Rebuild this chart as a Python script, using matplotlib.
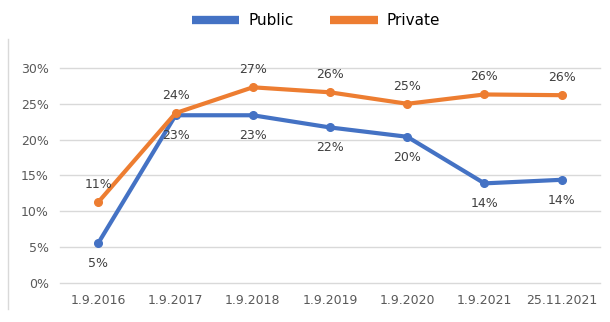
import matplotlib.pyplot as plt
import numpy as np

dates = ["1.9.2016", "1.9.2017", "1.9.2018", "1.9.2019", "1.9.2020", "1.9.2021", "25.11.2021"]
public = [5.6, 23.4, 23.4, 21.7, 20.4, 13.9, 14.4]
private = [11.3, 23.7, 27.3, 26.6, 25.0, 26.3, 26.2]
public_labels = ["5%", "23%", "23%", "22%", "20%", "14%", "14%"]
private_labels = ["11%", "24%", "27%", "26%", "25%", "26%", "26%"]
yticks = [0, 5, 10, 15, 20, 25, 30]

blue = "#4472C4"
orange = "#ED7D31"

fig = plt.figure(figsize=(6.1, 3.22), dpi=100)
ax = fig.add_axes([0.098, 0.121, 0.886, 0.668])
x = np.arange(len(dates))

ax.plot(x, public, color=blue, lw=3, marker='o', ms=5.5, label="Public", solid_capstyle='round')
ax.plot(x, private, color=orange, lw=3, marker='o', ms=5.5, label="Private", solid_capstyle='round')

for xi, v, lab in zip(x, public, public_labels):
    ax.annotate(lab, (xi, v), xytext=(0, -10), textcoords='offset points', ha='center', va='top',
                fontsize=9, color='#404040')
for xi, v, lab in zip(x, private, private_labels):
    ax.annotate(lab, (xi, v), xytext=(0, 8), textcoords='offset points', ha='center', va='bottom',
                fontsize=9, color='#404040')

ax.set_ylim(0, 30)
ax.set_xlim(-0.5, len(dates) - 0.5)
ax.set_yticks(yticks)
ax.set_yticklabels([f"{t}%" for t in yticks])
ax.set_xticks(x)
ax.set_xticklabels(dates)
ax.tick_params(axis='both', length=0, labelsize=9, colors='#595959', pad=8)
ax.grid(axis='y', color='#D9D9D9', lw=1)
for gl in ax.get_ygridlines():
    gl.set_clip_on(False)
ax.set_axisbelow(True)
for s in ax.spines.values():
    s.set_visible(False)

fig.legend(loc='center', bbox_to_anchor=(0.518, 0.935), ncol=2, frameon=False, fontsize=11,
           handlelength=3.1, handletextpad=0.6, columnspacing=2.4)
leg = fig.legends[0]
for h in leg.legend_handles:
    h.set_marker('')
    h.set_linewidth(6)
    h.set_solid_capstyle('butt')

fig.add_artist(plt.Line2D([0.013, 0.013], [0.04, 0.88], color='#D9D9D9', lw=1))

fig.savefig("out.png", dpi=100)
